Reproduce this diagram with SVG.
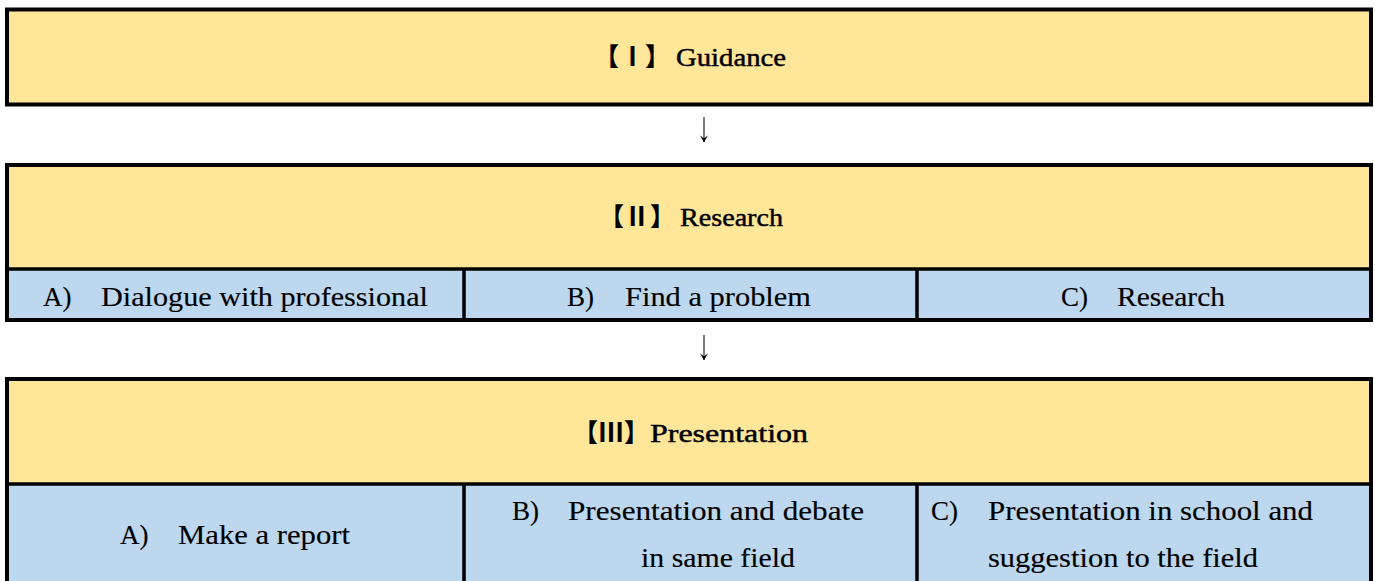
<svg xmlns="http://www.w3.org/2000/svg" width="1375" height="581" viewBox="0 0 1375 581">
<defs>
<marker id="ah" viewBox="0 0 10 10" refX="9.5" refY="5" markerWidth="8" markerHeight="9" markerUnits="userSpaceOnUse" orient="auto">
<path d="M1,0 L10,5 L1,10 L5,5 Z" fill="#000"/>
</marker>
</defs>
<style>
.hdr{fill:#FFE699;stroke:none}
.sub{fill:#BDD7EE;stroke:none}
.frame{fill:none;stroke:#000;stroke-width:4}
.ln{stroke:#000;stroke-width:3.5;fill:none}
.arrow{stroke:#333;stroke-width:1.3;fill:none}
text{font-family:"Liberation Serif","Noto Sans CJK JP",serif;fill:#000}
.t{font-size:25px;stroke:#000;stroke-width:0.45}
.br{font-family:"Noto Sans CJK JP",sans-serif;font-weight:900;stroke:none}
.rn{font-family:"Noto Sans CJK JP",sans-serif;font-weight:700;font-size:26px;stroke:none}
.c{font-size:27px;stroke:#000;stroke-width:0.15}
</style>
<rect width="1375" height="581" fill="#fff"/>
<g id="guidance">
<rect class="hdr" x="7" y="9.5" width="1364" height="95"/>
<rect class="frame" x="7" y="9.5" width="1364" height="95"/>
<text class="t" y="66"><tspan class="br" x="594">【</tspan><tspan class="rn" x="632.5" text-anchor="middle">Ⅰ</tspan><tspan class="br" x="645">】</tspan><tspan x="676" textLength="110" lengthAdjust="spacingAndGlyphs">Guidance</tspan></text>
</g>
<g id="connectors">
<line class="arrow" x1="704" y1="117" x2="704" y2="142" marker-end="url(#ah)"/>
<line class="arrow" x1="704" y1="335" x2="704" y2="360" marker-end="url(#ah)"/>
</g>
<g id="research">
<rect class="hdr" x="7" y="165" width="1364" height="104"/>
<rect class="sub" x="7" y="269" width="1364" height="51"/>
<rect class="frame" x="7" y="165" width="1364" height="155"/>
<line class="ln" x1="7" y1="269" x2="1371" y2="269"/>
<line class="ln" x1="464" y1="269" x2="464" y2="320"/>
<line class="ln" x1="917" y1="269" x2="917" y2="320"/>
<text class="t" y="226"><tspan class="br" x="599">【</tspan><tspan class="rn" x="637" text-anchor="middle">Ⅱ</tspan><tspan class="br" x="650">】</tspan><tspan x="680" textLength="103" lengthAdjust="spacingAndGlyphs">Research</tspan></text>
<text class="c" y="305.5"><tspan x="43">A)</tspan><tspan x="101" textLength="327" lengthAdjust="spacingAndGlyphs">Dialogue with professional</tspan></text>
<text class="c" y="305.5"><tspan x="567">B)</tspan><tspan x="625" textLength="186" lengthAdjust="spacingAndGlyphs">Find a problem</tspan></text>
<text class="c" y="305.5"><tspan x="1061">C)</tspan><tspan x="1117" textLength="108" lengthAdjust="spacingAndGlyphs">Research</tspan></text>
</g>
<g id="presentation">
<rect class="hdr" x="7" y="379" width="1364" height="105"/>
<rect class="sub" x="7" y="484" width="1364" height="110"/>
<rect class="frame" x="7" y="379" width="1364" height="215"/>
<line class="ln" x1="7" y1="484" x2="1371" y2="484"/>
<line class="ln" x1="464" y1="484" x2="464" y2="594"/>
<line class="ln" x1="917" y1="484" x2="917" y2="594"/>
<text class="t" y="442"><tspan class="br" x="573">【</tspan><tspan class="rn" x="611" text-anchor="middle">Ⅲ</tspan><tspan class="br" x="624">】</tspan><tspan x="650" textLength="158" lengthAdjust="spacingAndGlyphs">Presentation</tspan></text>
<text class="c" y="544"><tspan x="120">A)</tspan><tspan x="178" textLength="172" lengthAdjust="spacingAndGlyphs">Make a report</tspan></text>
<text class="c" y="520"><tspan x="512">B)</tspan><tspan x="568" textLength="296" lengthAdjust="spacingAndGlyphs">Presentation and debate</tspan></text>
<text class="c" y="567"><tspan x="641" textLength="154" lengthAdjust="spacingAndGlyphs">in same field</tspan></text>
<text class="c" y="520"><tspan x="931">C)</tspan><tspan x="988" textLength="325" lengthAdjust="spacingAndGlyphs">Presentation in school and</tspan></text>
<text class="c" y="567"><tspan x="988" textLength="270" lengthAdjust="spacingAndGlyphs">suggestion to the field</tspan></text>
</g>
</svg>
